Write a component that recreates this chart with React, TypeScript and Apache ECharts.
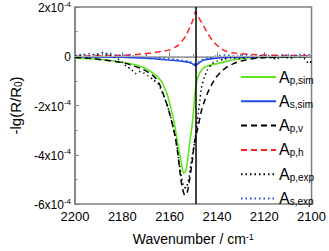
import React, { useEffect, useRef } from "react";
import * as echarts from "echarts";

// wavenumber (cm-1) and signal values in units of 1e-4
const greenX = [2200, 2190, 2183, 2177, 2172, 2168, 2165, 2163, 2161, 2159.5, 2158, 2157, 2156, 2155, 2154, 2153, 2152.3, 2151.5, 2150.5, 2149.8, 2149.2, 2148.5, 2147.5, 2146, 2144, 2141, 2138, 2134, 2128, 2120, 2110, 2100];
const greenY = [-0.08, -0.12, -0.2, -0.3, -0.42, -0.62, -0.85, -1.1, -1.55, -2.1, -2.75, -3.3, -3.85, -4.35, -4.75, -4.6, -4.15, -3.5, -2.8, -2.1, -1.45, -1.0, -0.72, -0.5, -0.4, -0.32, -0.26, -0.16, -0.08, -0.04, -0.02, -0.01];

const blueX = [2200, 2180, 2170, 2163, 2158, 2155, 2152, 2150.5, 2149.1, 2148, 2146.5, 2145, 2142, 2138, 2130, 2115, 2100];
const blueY = [-0.02, -0.04, -0.08, -0.13, -0.17, -0.2, -0.24, -0.3, -0.38, -0.3, -0.2, -0.14, -0.1, -0.06, -0.04, -0.02, -0.01];

const dashX = [2200, 2194, 2188, 2183, 2178, 2175, 2172, 2169, 2166, 2164, 2162.3, 2161, 2159.7, 2158.5, 2157.5, 2156.5, 2155.5, 2154.6, 2153.5, 2152.5, 2151.8, 2151, 2150.3, 2149.5, 2148.3, 2147.3, 2146.4, 2145, 2144, 2142.5, 2140.7, 2138.5, 2136, 2133, 2130, 2125, 2118, 2110, 2100];
const dashY = [-0.05, -0.08, -0.15, -0.21, -0.3, -0.4, -0.5, -0.65, -0.88, -1.2, -1.65, -2.0, -2.45, -2.9, -3.35, -4.0, -4.8, -5.35, -5.65, -5.5, -5.15, -4.65, -4.15, -3.5, -3.0, -2.55, -2.15, -1.75, -1.5, -1.2, -0.9, -0.65, -0.45, -0.3, -0.2, -0.1, -0.05, -0.02, -0.01];

const redX = [2200, 2190, 2180, 2175, 2171, 2167, 2163, 2160, 2158, 2156.4, 2155, 2153.1, 2151.2, 2150, 2149.1, 2148.2, 2147.2, 2146, 2144.6, 2142, 2140, 2138.5, 2136, 2132, 2127, 2120, 2110, 2100];
const redY = [0.0, 0.02, 0.04, 0.06, 0.1, 0.14, 0.2, 0.26, 0.35, 0.44, 0.58, 0.84, 1.23, 1.5, 1.82, 1.65, 1.49, 1.3, 1.05, 0.64, 0.45, 0.32, 0.2, 0.12, 0.08, 0.05, 0.03, 0.02];

const expPX = [2200, 2197, 2194, 2191, 2188, 2186, 2184, 2182, 2180, 2178, 2176, 2174.5, 2173, 2171, 2169, 2167, 2165, 2163, 2161, 2159.5, 2158, 2157, 2156, 2155, 2154, 2153, 2152, 2151, 2150, 2149.2, 2148.5, 2147.9, 2147.2, 2146.6, 2145.5, 2144, 2142, 2140, 2137, 2134, 2130, 2127, 2124, 2121, 2118, 2115, 2112, 2109, 2106, 2103, 2101, 2100];
const expPY = [0.02, 0.05, 0.1, 0.05, 0.15, 0.08, 0.02, -0.1, -0.25, -0.42, -0.55, -0.7, -0.62, -0.68, -0.8, -0.95, -1.1, -1.5, -2.0, -2.5, -3.1, -3.6, -4.3, -4.9, -5.3, -5.35, -5.0, -4.4, -3.8, -3.35, -2.82, -2.3, -1.78, -1.3, -0.9, -0.55, -0.3, -0.2, -0.12, -0.06, -0.1, -0.02, -0.08, 0.02, -0.05, -0.1, -0.02, -0.08, 0.0, -0.1, -0.3, -0.2];

const expSX = [2200, 2197, 2194, 2191, 2188, 2185, 2182, 2178, 2174, 2170, 2166, 2162, 2158, 2155, 2152, 2150, 2149, 2148, 2146, 2143, 2140, 2136, 2132, 2128, 2124, 2120, 2116, 2112, 2108, 2104, 2100];
const expSY = [0.0, 0.08, 0.03, 0.1, 0.05, 0.12, 0.02, 0.05, -0.02, 0.0, -0.05, -0.08, -0.12, -0.15, -0.2, -0.28, -0.32, -0.25, -0.12, -0.05, 0.02, 0.05, 0.0, 0.06, -0.02, 0.05, 0.0, 0.06, 0.02, 0.08, 0.05];

const yTicks = [2, 0, -2, -4, -6];
const xTicks = [2200, 2180, 2160, 2140, 2120, 2100];
const peakX = 2149;

const pairs = (xs: number[], ys: number[]) => xs.map((x, i) => [x, ys[i]]);

const FONT = "Liberation Sans, Arial, sans-serif";
const AXIS = "#808080";

export default function App() {
  const ref = useRef<HTMLDivElement>(null);
  useEffect(() => {
    if (!ref.current) return;
    const chart = echarts.init(ref.current, null, { renderer: "svg" });
    const lineBase = { type: "line" as const, symbol: "none", showSymbol: false, z: 3 };
    chart.setOption({
      animation: false,
      textStyle: { fontFamily: FONT },
      grid: {
        left: 61, right: 14, top: 7, bottom: 40,
        show: true, borderColor: AXIS, borderWidth: 1.5,
      },
      legend: {
        left: 235, top: 64, orient: "vertical",
        itemWidth: 35, itemHeight: 14, itemGap: 8.3,
        itemStyle: { opacity: 0 },
        formatter: (name: string) => `{a|A}{s|${name.slice(1)}}`,
        textStyle: {
          padding: [0, 0, 0, -2],
          rich: {
            a: { fontSize: 16, lineHeight: 16, verticalAlign: "bottom", color: "#000", fontFamily: FONT },
            s: { fontSize: 10, lineHeight: 6, verticalAlign: "bottom", color: "#000", fontFamily: FONT },
          },
        },
        data: ["Ap,sim", "As,sim", "Ap,v", "Ap,h", "Ap,exp", "As,exp"],
      },
      xAxis: {
        type: "value", inverse: true, min: xTicks[xTicks.length - 1], max: xTicks[0], interval: 20,
        name: "Wavenumber / cm{sup|-1}", nameLocation: "middle", nameGap: 28,
        nameTextStyle: {
          fontSize: 14, color: "#000", fontFamily: FONT,
          rich: { sup: { fontSize: 9, verticalAlign: "top", lineHeight: 8, color: "#000" } },
        },
        axisLine: { show: true, lineStyle: { color: AXIS, width: 1.5 } },
        axisTick: { show: true, inside: true, length: 4, lineStyle: { color: AXIS } },
        minorTick: { show: true, splitNumber: 2, length: 2.5, lineStyle: { color: AXIS } },
        axisLabel: { fontSize: 13, color: "#000", margin: 6, fontFamily: FONT, formatter: (v: number) => String(v) },
        splitLine: { show: false },
      },
      yAxis: {
        type: "value", min: yTicks[yTicks.length - 1], max: yTicks[0], interval: 2,
        name: "-lg(R/R{sub|0})", nameLocation: "middle", nameGap: 38, nameRotate: 90,
        nameTextStyle: {
          fontSize: 15, color: "#000", fontFamily: FONT,
          rich: { sub: { fontSize: 10, verticalAlign: "bottom", lineHeight: 6, color: "#000" } },
        },
        axisLine: { show: true, lineStyle: { color: AXIS, width: 1.5 } },
        axisTick: { show: true, inside: true, length: 4, lineStyle: { color: AXIS } },
        minorTick: { show: true, splitNumber: 2, length: 2.5, lineStyle: { color: AXIS } },
        axisLabel: {
          color: "#000", margin: 4, fontFamily: FONT,
          formatter: (v: number) => (v === 0 ? "{m|0}" : `{m|${v}x10}{e|-4}`),
          rich: {
            m: { fontSize: 12, lineHeight: 14, verticalAlign: "bottom", color: "#000", fontFamily: FONT },
            e: { fontSize: 8, lineHeight: 8, verticalAlign: "top", color: "#000", fontFamily: FONT },
          },
        },
        splitLine: { show: false },
      },
      series: [
        {
          ...lineBase, name: "Ap,sim", data: pairs(greenX, greenY), smooth: 0.3,
          lineStyle: { color: "#5ee61e", width: 1.6 }, itemStyle: { color: "#5ee61e" },
          markLine: {
            silent: true, symbol: "none", label: { show: false },
            data: [
              { yAxis: 0, lineStyle: { color: "#b0b0b0", width: 1, type: "solid" } },
            ],
          },
        },
        {
          ...lineBase, name: "As,sim", data: pairs(blueX, blueY), smooth: 0.3,
          lineStyle: { color: "#1f4fe0", width: 1.6 }, itemStyle: { color: "#1f4fe0" },
        },
        {
          ...lineBase, name: "Ap,v", data: pairs(dashX, dashY), smooth: 0.3,
          lineStyle: { color: "#000", width: 1.5, type: [6, 4] }, itemStyle: { color: "#000" },
        },
        {
          ...lineBase, name: "Ap,h", data: pairs(redX, redY), smooth: 0.2,
          lineStyle: { color: "#ff2020", width: 1.5, type: [6, 4] }, itemStyle: { color: "#ff2020" },
        },
        {
          ...lineBase, name: "Ap,exp", data: pairs(expPX, expPY), smooth: 0.2,
          lineStyle: { color: "#000", width: 1.5, type: [1.5, 3] }, itemStyle: { color: "#000" },
          markLine: {
            silent: true, symbol: "none", label: { show: false },
            data: [
              { xAxis: peakX, lineStyle: { color: "#000", width: 1.5, type: "solid" } },
            ],
          },
        },
        {
          ...lineBase, name: "As,exp", data: pairs(expSX, expSY), smooth: 0.2,
          lineStyle: { color: "#1f4fe0", width: 1.5, type: [1.5, 3] }, itemStyle: { color: "#1f4fe0" },
        },
      ],
    });
    return () => chart.dispose();
  }, []);
  return <div ref={ref} style={{ width: 329, height: 251, position: "absolute", left: 0, top: 0 }} />;
}
